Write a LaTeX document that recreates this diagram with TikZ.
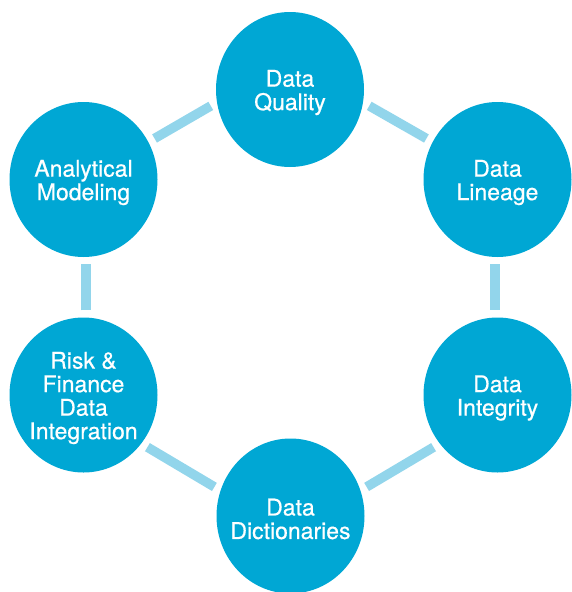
\documentclass[tikz,border=0pt]{standalone}
\usepackage{fontspec}
\setmainfont{TeX Gyre Heros}
\newfontfamily\hubfont{TeX Gyre Heros}[FakeBold=0.6]
\usetikzlibrary{arrows.meta, shapes.geometric}
\definecolor{hubblue}{RGB}{0,167,212}
\definecolor{linkblue}{RGB}{146,213,235}

\begin{document}
\begin{tikzpicture}[x=1pt, y=-1pt, line join=round,
		font=\hubfont\fontsize{23}{23.5}\selectfont,
		hub/.style={ellipse, fill=hubblue, minimum width=148pt, minimum height=155pt, inner sep=0pt},
		hubtext/.style={text=white, align=center, yshift=-3pt},
		link/.style={draw=linkblue, line width=9.5pt, shorten <=7pt, shorten >=7pt}]
		
		\useasboundingbox (0,0) rectangle (571,592);
		
		% ===== circles of the ring =====
		\node[hub, label={[hubtext]center:{Data\\Quality}}] (dq) at (290,89.5) {};
		\node[hub, label={[hubtext]center:{Data\\Lineage}}] (dl) at (497.5,179.5) {};
		\node[hub, label={[hubtext]center:{Data\\Integrity}}] (di) at (497.5,395) {};
		\node[hub, label={[hubtext]center:{Data\\Dictionaries}}] (dd) at (290.5,516) {};
		\node[hub, label={[hubtext]center:{Risk \&\\Finance\\Data\\Integration}}] (rf) at (83.5,395) {};
		\node[hub, label={[hubtext]center:{Analytical\\Modeling}}] (am) at (83.5,179.5) {};
		
		% ===== links between neighbours =====
		\draw[link] (am.30) -- (dq.190);
		\draw[link] (dq.350) -- (dl.150);
		\draw[link] (dl.268) -- (di.92);
		\draw[link] (di.220) -- (dd.20);
		\draw[link] (dd.160) -- (rf.320);
		\draw[link] (rf.88) -- (am.272);
		
	\end{tikzpicture}
\end{document}
